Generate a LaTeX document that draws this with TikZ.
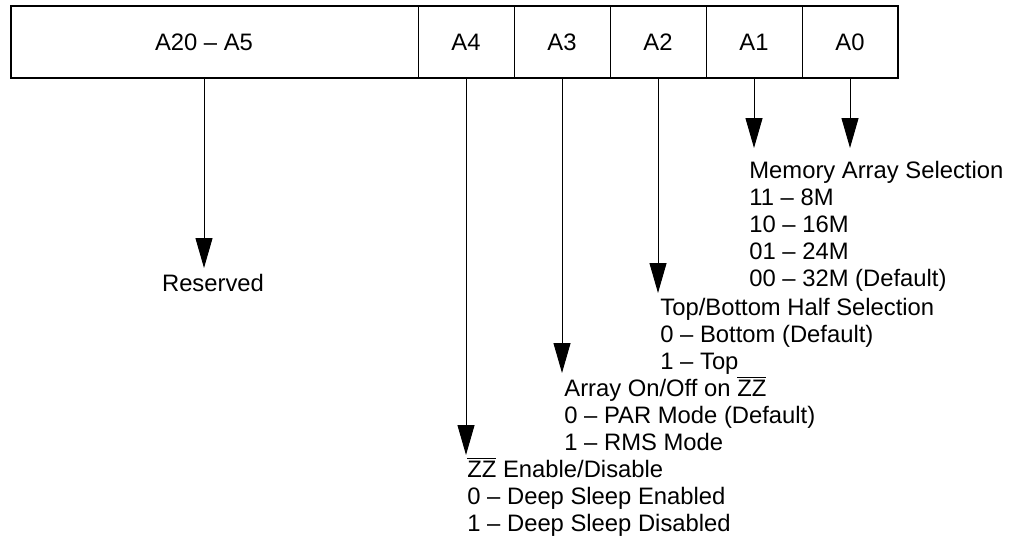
\documentclass[tikz,border=0pt]{standalone}
\usepackage{fontspec}
\setmainfont{Liberation Sans}
\usetikzlibrary{arrows.meta,positioning}
\newcommand{\zzbar}{$\overline{\mbox{ZZ}}$}
\begin{document}
\begin{tikzpicture}[x=0.5pt,y=-0.5pt,
    every node/.style={font=\fontsize{11.9}{13.4}\selectfont},
    cell/.style={draw,line width=0.5pt,minimum width=48pt,minimum height=36pt,inner sep=0pt,outer sep=0pt},
    bits/.style={anchor=base west,align=left,inner sep=0pt},
    arr/.style={-{Triangle[width=8.5pt,length=15pt]},line width=0.5pt}]
  \useasboundingbox (0,0) rectangle (1010,537);
  \node[cell,minimum width=203.5pt] (hi) at (214.5,42) {};
  \node[cell,right=0pt of hi] (a4) {A4};
  \node[cell,right=0pt of a4] (a3) {A3};
  \node[cell,right=0pt of a3] (a2) {A2};
  \node[cell,right=0pt of a2] (a1) {A1};
  \node[cell,right=0pt of a1] (a0) {A0};
  \node (hilbl) at (204,42) {A20 – A5};
  \draw[line width=0.85pt] (hi.north west) rectangle (a0.south east);
  \node[anchor=base] (resv) at (213,291) {Reserved};
  \node[bits] (memsel) at (749,286) {Memory Array Selection\\11 – 8M\\10 – 16M\\01 – 24M\\00 – 32M (Default)};
  \node[bits] (half) at (660,369) {Top/Bottom Half Selection\\0 – Bottom (Default)\\1 – Top};
  \node[bits] (onoff) at (564,450) {Array On/Off on \zzbar\\0 – PAR Mode (Default)\\1 – RMS Mode};
  \node[bits] (zzen) at (467,531) {\zzbar{} Enable/Disable\\0 – Deep Sleep Enabled\\1 – Deep Sleep Disabled};
  \coordinate (tiphi) at (204,268);
  \coordinate (tip4) at (466,455);
  \coordinate (tip3) at (562,373);
  \coordinate (tip2) at (658,293);
  \coordinate (tip1) at (754,148);
  \coordinate (tip0) at (850,148);
  \begin{scope}[arr]
    \draw (hilbl |- hi.south) to (tiphi);
    \draw (a4.south) to (tip4);
    \draw (a3.south) to (tip3);
    \draw (a2.south) to (tip2);
    \draw (a1.south) to (tip1);
    \draw (a0.south) to (tip0);
  \end{scope}
\end{tikzpicture}
\end{document}
